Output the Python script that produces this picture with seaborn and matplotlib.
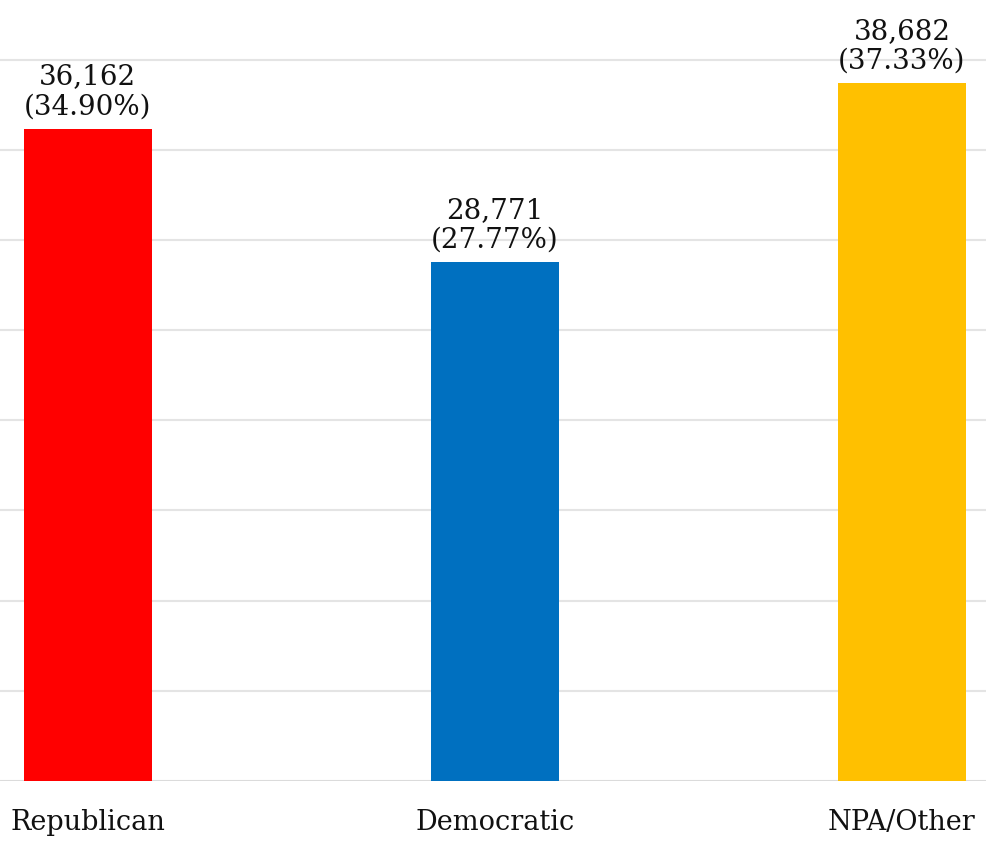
import pandas as pd
import matplotlib.pyplot as plt
import seaborn as sns

# Data
parties = ['Republican', 'Democratic', 'NPA/Other']
voters = [36162, 28771, 38682]
shares = [34.90, 27.77, 37.33]
colors = ['#FF0000', '#0070C0', '#FFC000']

df = pd.DataFrame({'Party': parties, 'Voters': voters, 'Share': shares})

sns.set_style('white')
plt.rcParams['font.family'] = ['DejaVu Serif']

fig = plt.figure(figsize=(9.87, 8.42), dpi=100)
ax = fig.add_axes([0, 0.0724, 1, 0.9276])

sns.barplot(data=df, x='Party', y='Voters', hue='Party', palette=colors,
            width=0.315, saturation=1, linewidth=0, legend=False, ax=ax, zorder=3)

ax.set_ylim(0, 43300)
ax.set_xlim(-0.216, 2.209)
ax.set_yticks(range(0, 45000, 5000))
ax.yaxis.grid(True, color='#e4e4e4', linewidth=1.5, zorder=0)
ax.axhline(0, color='#d9d9d9', linewidth=1.8, zorder=2)
ax.set_yticklabels([])
ax.tick_params(axis='both', length=0)
ax.tick_params(axis='x', labelsize=19.5, pad=20, labelcolor='#111111')
ax.set_xlabel('')
ax.set_ylabel('')
for s in ax.spines.values():
    s.set_visible(False)

# Value labels above bars
for i, row in df.iterrows():
    ax.annotate(f"{row['Voters']:,}\n({row['Share']:.2f}%)", (i, row['Voters']),
                xytext=(0, 6), textcoords='offset points', ha='center', va='bottom',
                fontsize=20, color='#111111', linespacing=1.15)

fig.savefig('out.png', dpi=100)
